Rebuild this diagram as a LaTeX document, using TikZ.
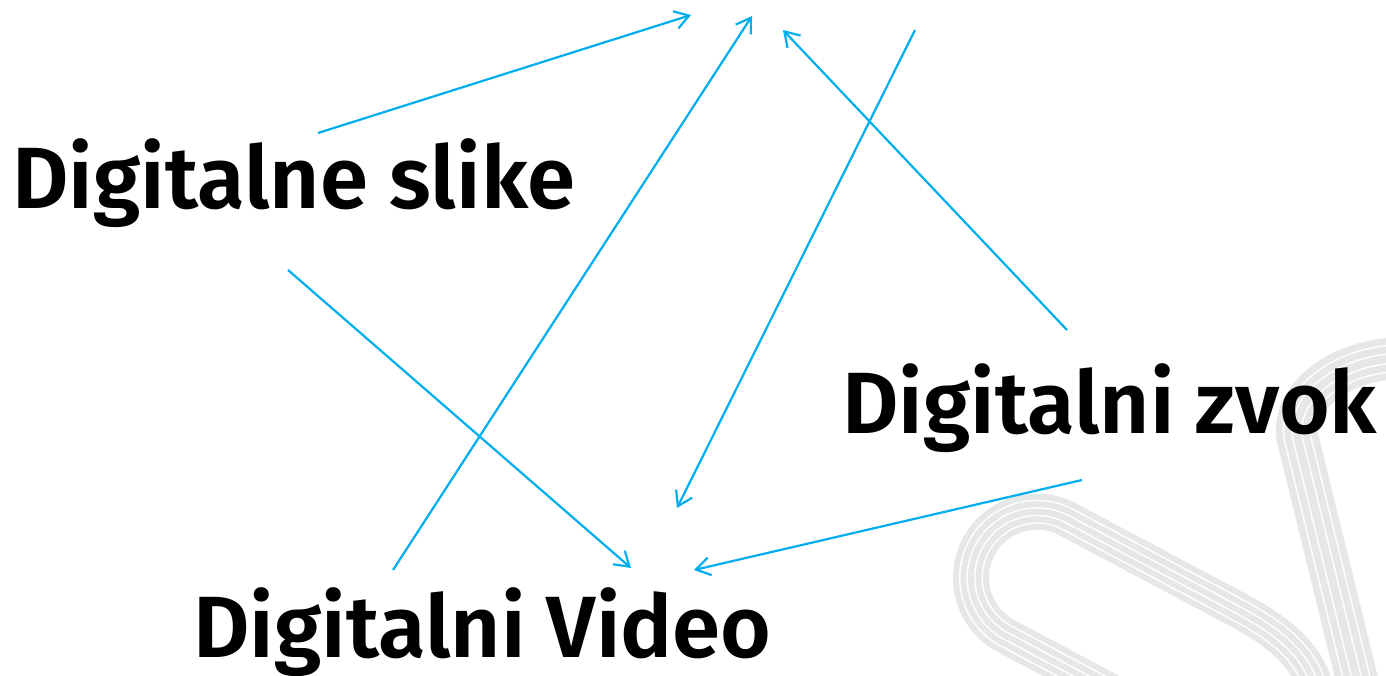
\documentclass[tikz,border=0pt]{standalone}
\usepackage{fontspec}
\setmainfont{Fira Sans}[BoldFont={Fira Sans SemiBold}]
\usetikzlibrary{arrows.meta}
\definecolor{arrowblue}{RGB}{0,174,239}
\definecolor{swoosh}{RGB}{230,231,232}
\begin{document}
\begin{tikzpicture}[x=1pt,y=-1pt,
  lbl/.style={font=\fontsize{87}{100}\selectfont\bfseries, inner sep=0pt, anchor=base west},
  link/.style={draw=arrowblue, line width=2.2pt, -{Straight Barb[length=14pt,width=18pt]}},
  band/.style={draw=swoosh, line width=#1},
  gap/.style={draw=white, line width=#1}]
\useasboundingbox (0,0) rectangle (1386,675);
% background swoosh
\def\hairpin{(1115,694) -- (1006,636) arc[start angle=118,end angle=298,radius=66] -- (1240,611) .. controls (1275,630) and (1312,655) .. (1318,700)}
\def\hump{(1362,700) -- (1298,440) .. controls (1289,401) and (1335,360) .. (1400,358)}
\draw[band=42pt] \hump;
\draw[gap=28pt] \hump;
\draw[band=25pt] \hump;
\draw[gap=11pt] \hump;
\draw[band=8pt] \hump;
\draw[band=36pt] \hairpin;
\draw[gap=24pt] \hairpin;
\draw[band=21pt] \hairpin;
\draw[gap=9pt] \hairpin;
\draw[band=6pt] \hairpin;
% labels
\node[lbl] (slike) at (12,208) {Digitalne slike};
\node[lbl] (zvok) at (842,433) {Digitalni zvok};
\node[lbl] (video) at (193,657) {Digitalni Video};
% connector ends
\coordinate (s1) at (318,133); \coordinate (e1) at (691,15);
\coordinate (s2) at (393,570); \coordinate (e2) at (752,16);
\coordinate (s3) at (1067,330); \coordinate (e3) at (783,30);
\coordinate (s4) at (915,30); \coordinate (e4) at (677,508);
\coordinate (s5) at (288,270); \coordinate (e5) at (631,568);
\coordinate (s6) at (1082,480); \coordinate (e6) at (694,570);
\draw[link] (s1) -- (e1);
\draw[link] (s2) -- (e2);
\draw[link] (s3) -- (e3);
\draw[link] (s4) -- (e4);
\draw[link] (s5) -- (e5);
\draw[link] (s6) -- (e6);
\end{tikzpicture}
\end{document}
